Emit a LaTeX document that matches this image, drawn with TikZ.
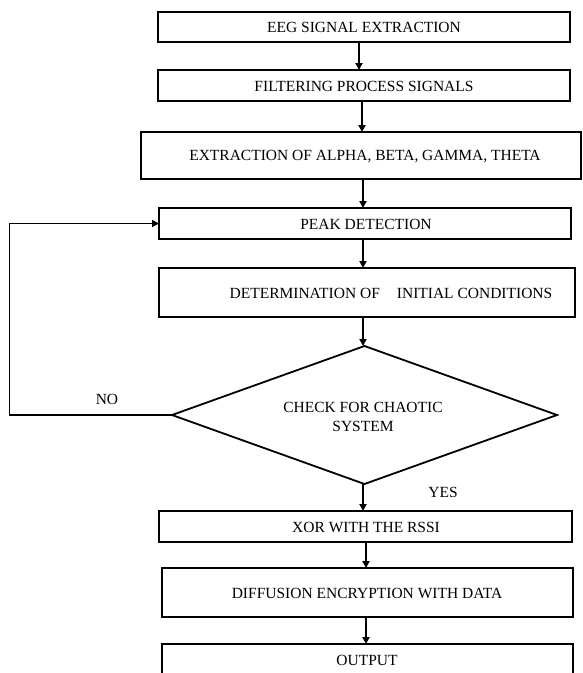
\documentclass[tikz,border=0pt]{standalone}
\usepackage{fontspec}
\setmainfont{Liberation Serif}
\usetikzlibrary{shapes.geometric,arrows.meta}
\begin{document}
\begin{tikzpicture}[x=1pt,y=-1pt,
  box/.style={draw,line width=1.8pt,rectangle,inner sep=0pt,outer sep=0pt},
  lbl/.style={font=\fontsize{15.5}{19}\selectfont},
  arr/.style={line width=1.8pt,-{Triangle[length=7pt,width=7pt]}},
  line/.style={line width=1.8pt}]
\useasboundingbox (0,0) rectangle (582,673);
\node[box,minimum width=412pt,minimum height=30pt] (b1) at (364,27) {};
\node[lbl] (t1) at (364,27) {EEG SIGNAL EXTRACTION};
\node[box,minimum width=412pt,minimum height=31pt] (b2) at (364,85.5) {};
\node[lbl] (t2) at (364,86) {FILTERING PROCESS SIGNALS};
\node[box,minimum width=440pt,minimum height=47pt] (b3) at (361,155.5) {};
\node[lbl] (t3) at (365,157) {EXTRACTION OF ALPHA, BETA, GAMMA, THETA};
\node[box,minimum width=412pt,minimum height=31pt] (b4) at (365,223.5) {};
\node[lbl] (t4) at (366,224) {PEAK DETECTION};
\node[box,minimum width=416pt,minimum height=49pt] (b5) at (367,292.5) {};
\node[lbl] (t5) at (391,293) {DETERMINATION OF\hspace{17pt}INITIAL CONDITIONS};
\node[draw,line width=1.8pt,diamond,aspect=2.79,inner sep=0pt,outer sep=0pt,
  minimum width=385pt,minimum height=138pt] (d) at (364.5,415) {};
\node[lbl,align=center] (td) at (363,416.5) {CHECK FOR CHAOTIC\\SYSTEM};
\node[box,minimum width=413pt,minimum height=31pt] (b7) at (365.5,526.5) {};
\node[lbl] (t7) at (366,527) {XOR WITH THE RSSI};
\node[box,minimum width=411pt,minimum height=49pt] (b8) at (367.5,592.5) {};
\node[lbl] (t8) at (367,593) {DIFFUSION ENCRYPTION WITH DATA};
\node[box,minimum width=411pt,minimum height=46pt] (b9) at (367.5,667) {};
\node[lbl] (t9) at (367,660) {OUTPUT};
\node[lbl] (no) at (107,399) {NO};
\node[lbl] (yes) at (443,492) {YES};
\coordinate (xa) at (359,0);
\coordinate (xb) at (362,0);
\coordinate (xc) at (363,0);
\coordinate (xd) at (366,0);
\coordinate (loopx) at (9.5,0);
\draw[arr] (b1.south -| xa) -- (b2.north -| xa);
\draw[arr] (b2.south -| xb) -- (b3.north -| xb);
\draw[arr] (b3.south -| xc) -- (b4.north -| xc);
\draw[arr] (b4.south -| xc) -- (b5.north -| xc);
\draw[arr] (b5.south -| xc) -- (d.north -| xc);
\draw[arr] (d.south -| xc) -- (b7.north -| xc);
\draw[arr] (b7.south -| xd) -- (b8.north -| xd);
\draw[arr] (b8.south -| xd) -- (b9.north -| xd);
\draw[arr] (d.west) -- (d.west -| loopx) -- (b4.west -| loopx) -- (b4.west);
\end{tikzpicture}
\end{document}
